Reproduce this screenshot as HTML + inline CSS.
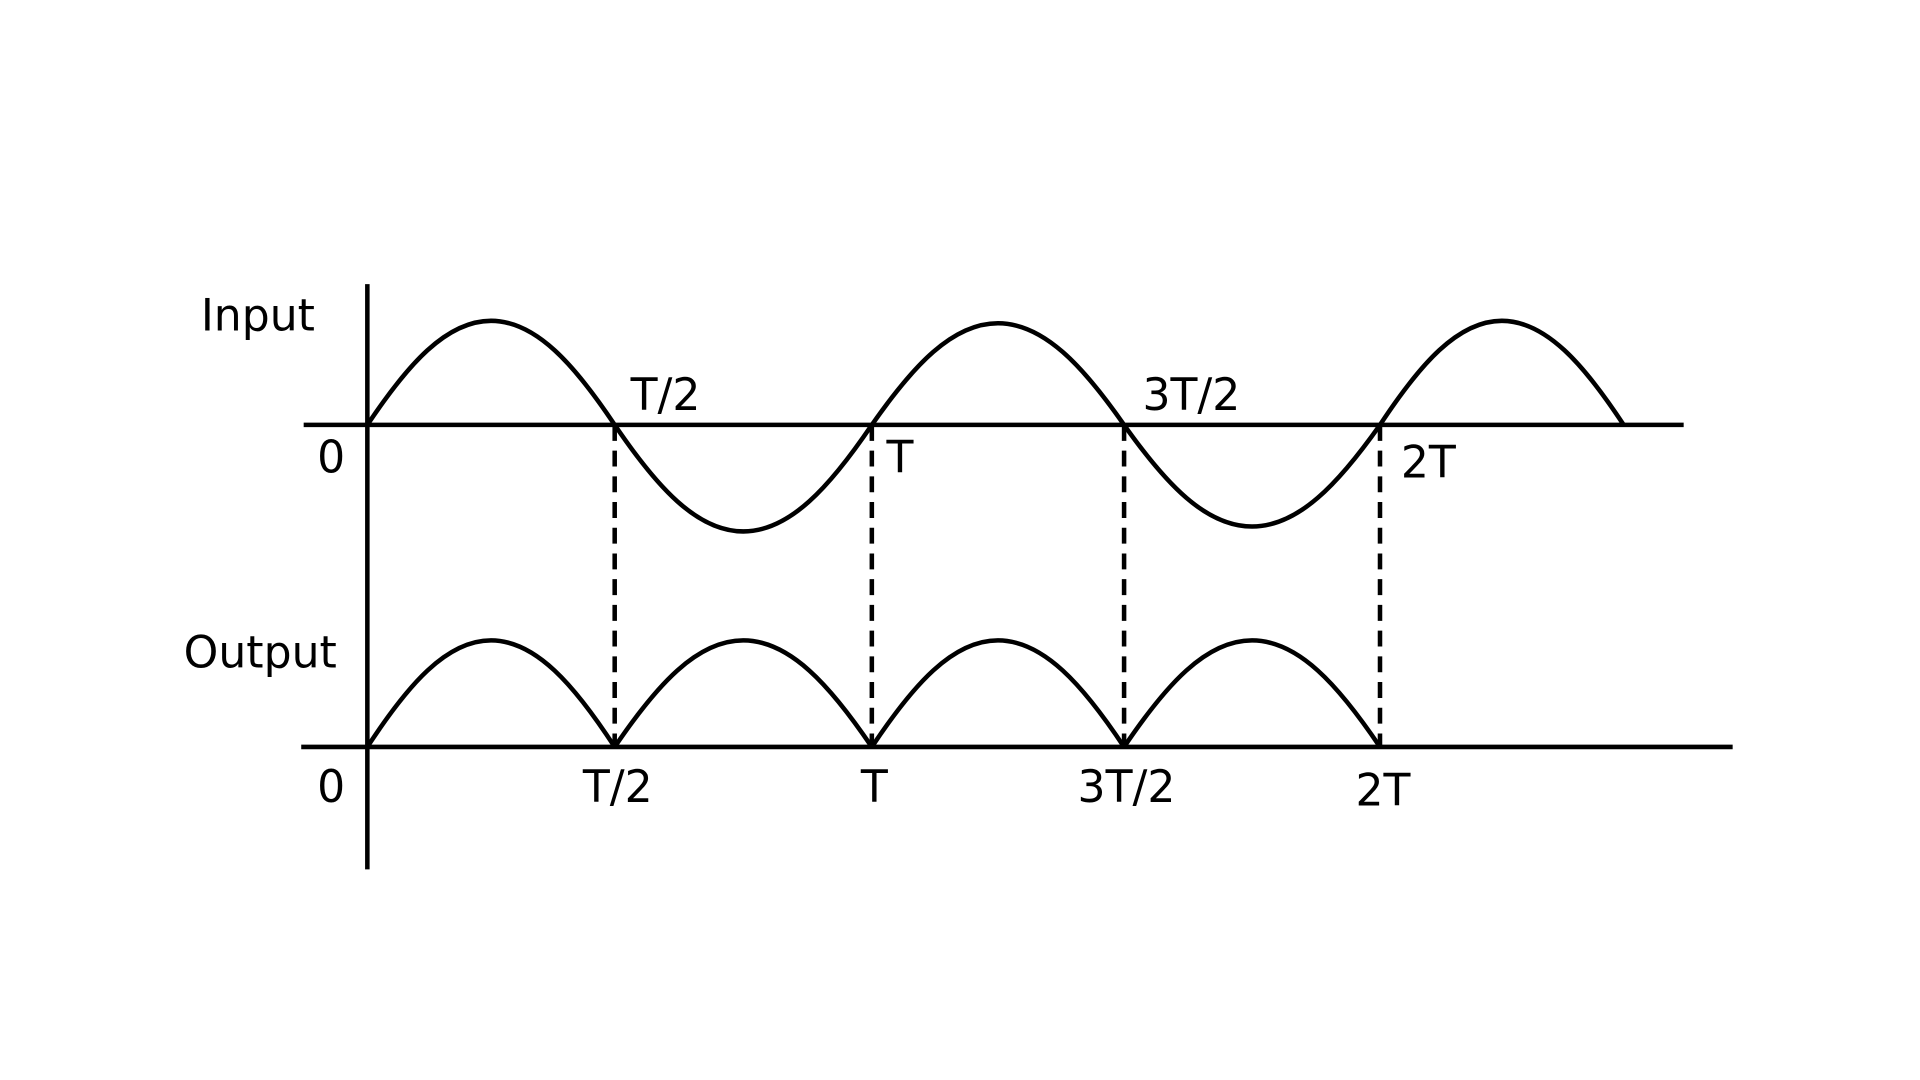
<!DOCTYPE html>
<html><head><meta charset="utf-8">
<style>
html,body{margin:0;padding:0;background:#fff;}
svg{display:block;}
text{font-family:"DejaVu Sans","Liberation Sans",sans-serif;font-size:36px;fill:#000;}
</style></head>
<body>
<svg id="s" width="1920" height="1080" viewBox="0 0 1568 882" xmlns="http://www.w3.org/2000/svg">
<rect width="1568" height="882" fill="#fff"/>
<g stroke="#000" stroke-width="3.7" fill="none">
<line x1="300" y1="232" x2="300" y2="710"/>
<line x1="248" y1="347" x2="1375" y2="347"/>
<line x1="246" y1="610" x2="1415" y2="610"/>
<g stroke-dasharray="13,8">
<line x1="502" y1="347" x2="502" y2="610"/>
<line x1="712" y1="347" x2="712" y2="610"/>
<line x1="918" y1="347" x2="918" y2="610"/>
<line x1="1127" y1="347" x2="1127" y2="610"/>
</g>
<path id="inp"/>
<path id="out"/>
</g>
<text x="164" y="270">Input</text>
<text x="515" y="335">T/2</text>
<text x="259" y="386">0</text>
<text x="724" y="386">T</text>
<text x="933" y="335">3T/2</text>
<text x="1144" y="390">2T</text>
<text x="150" y="545">Output</text>
<text x="259" y="655">0</text>
<text x="476" y="655">T/2</text>
<text x="703" y="655">T</text>
<text x="880" y="655">3T/2</text>
<text x="1107" y="658">2T</text>
</svg>
<script>
function half(x0,x1,b,p,first){
  var q=(x1-x0)/2, m=b+(p-b)*0.58;
  var s=first?("M"+x0+" "+b+" "):"";
  s+="C"+(x0+0.3261*q)+" "+m+" "+(x0+0.6381*q)+" "+p+" "+(x0+q)+" "+p+" ";
  s+="C"+(x0+q+0.3619*q)+" "+p+" "+(x0+q+0.6739*q)+" "+m+" "+x1+" "+b+" ";
  return s;
}
var xs=[300,502,712,918,1127,1326];
var pk=[262,434,264,430,262];
var d="";
for(var i=0;i<5;i++) d+=half(xs[i],xs[i+1],347,pk[i],i==0);
document.getElementById("inp").setAttribute("d",d);
var o="";
for(var i=0;i<4;i++) o+=half(xs[i],xs[i+1],610,523,true);
document.getElementById("out").setAttribute("d",o);
</script>
</body></html>
